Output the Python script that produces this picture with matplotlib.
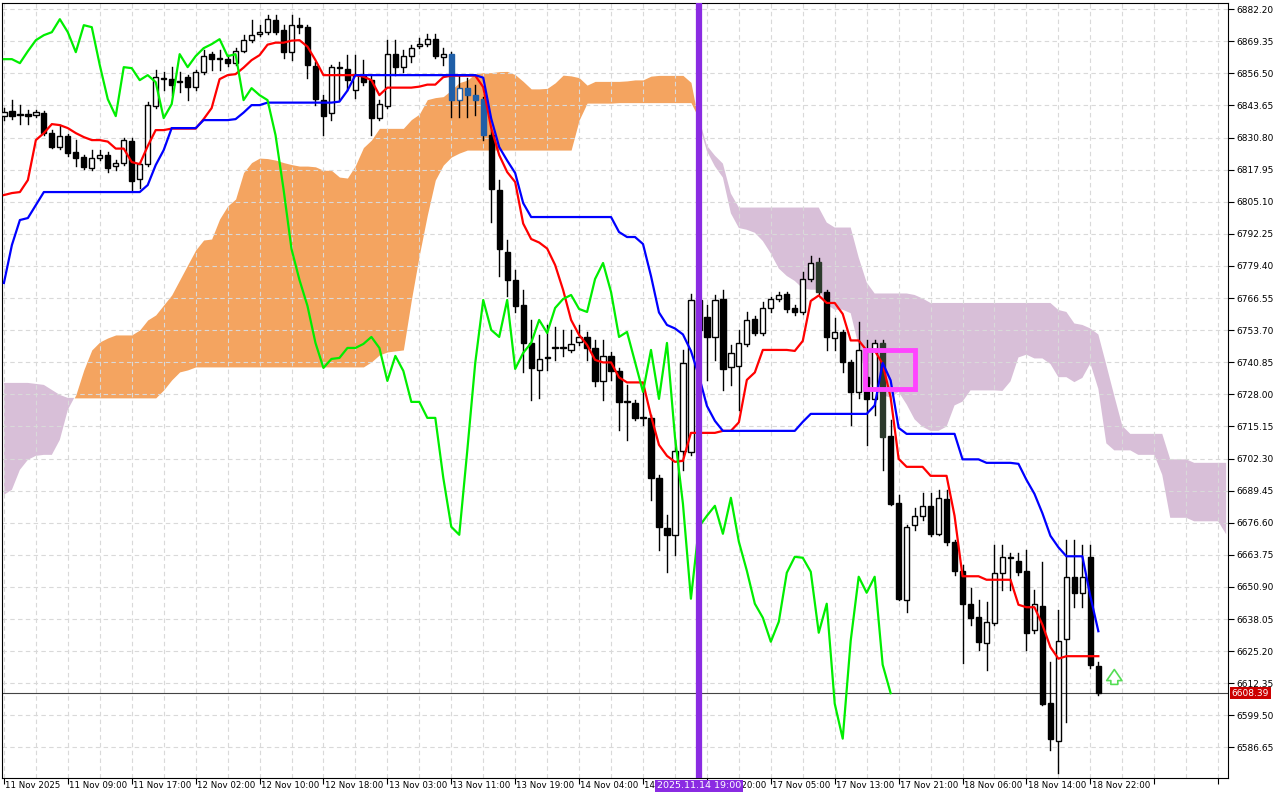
import numpy as np
import pandas as pd
import matplotlib
matplotlib.use("Agg")
import matplotlib.pyplot as plt
from matplotlib.patches import Rectangle

opens = [6839.4,6841.4,6839.8,6840.2,6839.8,6840.6,6832.6,6827.0,6831.4,6825.0,
         6823.0,6818.6,6822.6,6823.8,6819.4,6820.6,6829.4,6814.2,6820.2,6843.4,
         6854.2,6854.2,6853.0,6855.0,6851.0,6857.0,6864.2,6862.2,6862.2,6860.6,
         6865.4,6869.8,6872.2,6873.0,6877.8,6873.8,6865.0,6875.8,6875.0,6859.4,
         6845.8,6840.6,6858.6,6858.2,6849.8,6855.4,6853.8,6838.6,6843.4,6864.2,
         6859.0,6863.4,6867.4,6868.2,6870.2,6863.0,6864.2,6845.8,6850.6,6847.8,
         6846.2,6831.8,6809.8,6785.0,6773.8,6763.8,6748.6,6737.8,6742.6,6746.6,
         6746.6,6745.8,6749.0,6751.0,6746.6,6733.4,6743.4,6737.4,6725.0,6724.6,
         6718.6,6718.6,6694.6,6674.6,6671.8,6705.4,6705.0,6765.8,6759.0,6751.0,
         6766.2,6739.0,6739.4,6748.2,6758.2,6752.6,6762.6,6766.2,6768.2,6762.6,
         6761.0,6774.2,6781.0,6769.0,6750.6,6753.0,6741.0,6729.0,6735.0,6726.2,
         6748.6,6711.4,6684.6,6645.8,6675.8,6679.4,6683.4,6672.2,6686.2,6669.0,
         6657.4,6644.2,6639.0,6628.6,6636.6,6656.6,6662.6,6661.4,6657.4,6633.8,
         6643.4,6604.6,6589.4,6630.2,6655.0,6648.6,6663.0,6619.4]
closes = [6841.0,6839.4,6839.8,6839.4,6841.0,6832.6,6827.0,6831.4,6824.6,6822.6,
          6819.0,6822.6,6823.8,6818.6,6820.6,6829.8,6813.4,6820.2,6843.8,6855.0,
          6854.2,6851.8,6853.0,6851.0,6857.0,6863.4,6862.2,6862.2,6860.6,6865.4,
          6869.8,6871.8,6873.0,6878.2,6873.0,6865.0,6875.8,6875.0,6859.8,6846.2,
          6839.4,6859.0,6858.6,6853.8,6855.8,6853.0,6838.6,6844.2,6864.2,6859.0,
          6863.4,6866.6,6868.2,6870.2,6863.4,6864.2,6845.8,6850.6,6847.8,6845.8,
          6831.8,6810.2,6786.2,6773.8,6763.4,6748.6,6738.6,6742.2,6742.6,6746.6,
          6746.6,6748.2,6751.0,6746.6,6733.4,6743.4,6737.4,6725.0,6725.0,6718.6,
          6718.6,6694.6,6675.0,6671.8,6705.4,6740.6,6765.8,6753.8,6751.0,6765.8,
          6738.2,6744.6,6748.6,6757.8,6752.6,6762.6,6766.2,6767.8,6762.2,6761.0,
          6774.2,6780.6,6769.0,6751.0,6753.0,6741.0,6729.0,6745.8,6726.2,6748.6,
          6711.0,6684.2,6646.2,6675.0,6679.4,6683.4,6672.2,6686.6,6669.0,6657.4,
          6644.2,6638.6,6629.0,6637.0,6656.6,6663.0,6662.6,6657.0,6632.6,6644.2,
          6604.2,6590.2,6629.4,6655.0,6648.6,6655.0,6619.8,6608.39]
highs = [6842.6,6845.8,6843.8,6841.8,6841.8,6841.4,6833.8,6835.8,6832.2,6829.8,
         6823.8,6825.8,6825.8,6825.0,6821.8,6830.6,6830.6,6821.0,6845.0,6857.8,
         6857.0,6859.0,6857.0,6855.8,6857.8,6865.8,6865.0,6865.8,6863.8,6866.6,
         6871.8,6877.8,6875.8,6879.8,6879.8,6875.8,6879.8,6878.6,6875.8,6861.0,
         6847.8,6859.8,6861.0,6863.8,6863.8,6861.8,6855.8,6845.8,6869.8,6869.8,
         6865.8,6867.8,6870.6,6872.2,6872.2,6866.6,6865.0,6855.8,6854.6,6851.8,
         6847.0,6833.8,6813.8,6789.8,6777.8,6769.8,6757.8,6751.8,6755.8,6755.0,
         6753.8,6753.8,6755.8,6753.0,6749.8,6749.8,6745.0,6738.6,6731.8,6725.8,
         6729.0,6719.8,6695.8,6679.8,6709.8,6745.8,6768.2,6767.8,6763.8,6767.8,
         6769.8,6747.8,6753.8,6761.0,6759.4,6765.0,6767.0,6769.0,6769.0,6763.8,
         6777.0,6783.4,6782.6,6769.8,6758.6,6753.8,6741.8,6757.0,6749.8,6749.8,
         6749.8,6717.8,6687.8,6675.8,6682.6,6688.6,6688.6,6689.8,6689.8,6669.8,
         6659.8,6650.6,6645.8,6645.0,6667.8,6667.8,6664.6,6664.6,6665.8,6649.8,
         6661.0,6621.0,6641.8,6669.8,6669.8,6667.8,6667.8,6621.0]
lows = [6837.8,6838.2,6836.2,6836.2,6839.0,6831.8,6826.6,6826.2,6823.4,6819.4,
        6818.2,6817.8,6821.8,6817.0,6817.8,6819.8,6809.8,6810.6,6819.4,6842.6,
        6849.8,6847.8,6849.0,6845.8,6849.8,6856.2,6857.8,6857.8,6859.4,6859.8,
        6865.0,6869.0,6871.4,6872.2,6872.2,6862.6,6861.8,6872.6,6854.6,6843.8,
        6831.8,6837.8,6845.8,6849.8,6846.6,6851.8,6831.8,6837.8,6842.6,6855.8,
        6857.0,6861.0,6866.6,6867.4,6862.6,6859.8,6839.0,6839.0,6839.0,6839.8,
        6829.8,6797.0,6775.4,6767.4,6761.0,6737.0,6725.8,6726.6,6737.8,6741.8,
        6743.4,6745.0,6747.8,6741.8,6731.4,6725.8,6733.8,6713.8,6709.8,6717.8,
        6715.8,6685.8,6665.8,6657.0,6663.8,6697.8,6703.8,6749.8,6733.8,6741.8,
        6729.8,6731.8,6721.8,6747.4,6751.8,6751.8,6761.0,6765.4,6761.0,6759.8,
        6760.2,6773.4,6768.2,6745.8,6745.8,6737.0,6715.8,6726.6,6707.8,6719.8,
        6697.8,6683.8,6645.8,6641.0,6673.8,6677.8,6671.4,6671.8,6667.8,6655.8,
        6620.6,6635.8,6625.8,6617.8,6635.8,6649.8,6649.8,6655.8,6625.8,6632.6,
        6603.8,6585.8,6576.6,6597.0,6643.0,6643.0,6618.6,6607.8]

tenkan_head = [6807.8,6808.6,6809.0,6813.8,6829.8,6832.6,6836.2,6835.8]
kijun_head = [6772.6,6787.8,6797.8,6798.6,6803.8] + [6809.0]*13 + \
             [6811.8,6819.8,6825.8,6834.6,6834.6,6834.6,6834.6]
spanA_head = [6687.8,6689.8,6697.8,6701.8,6703.4,6703.8,6703.8,6709.8,6721.8,6727.8,
              6737.8,6745.8,6749.0,6750.6,6751.8,6751.8,6751.8,6753.8,6757.8,6759.8,
              6763.8,6767.8,6773.8,6779.8,6785.8,6789.8]
spanB_head = ([6732.6,6732.6,6732.6,6732.6,6732.2,6731.8,6729.8,6727.8,6726.6]
              + [6726.6]*11 + [6729.8,6733.8,6737.0,6737.8] + [6739.0]*22
              + [6741.0,6743.8,6745.0,6745.4,6745.8]
              + [6765.8,6783.8,6799.8,6813.8,6819.8,6823.0,6824.6]
              + [6825.8]*14 + [6837.8,6844.6,6844.6,6844.6,6844.6])

xlabels = ["11 Nov 2025","11 Nov 09:00","11 Nov 17:00","12 Nov 02:00","12 Nov 10:00",
           "12 Nov 18:00","13 Nov 03:00","13 Nov 11:00","13 Nov 19:00","14 Nov 04:00",
           "14 Nov 12:00","17 Nov 20:00","17 Nov 05:00","17 Nov 13:00","17 Nov 21:00",
           "18 Nov 06:00","18 Nov 14:00","18 Nov 22:00"]
yticks = [6882.20 - 12.85 * i for i in range(24)]
last_price = 6608.39
marker_bar = 87
marker_label = "2025.11.14 19:00"

n = len(closes)
H = pd.Series(highs); L = pd.Series(lows)
tenkan = ((H.rolling(9).max() + L.rolling(9).min()) / 2).values
kijun = ((H.rolling(26).max() + L.rolling(26).min()) / 2).values
tenkan[:8] = tenkan_head
kijun[:25] = kijun_head
sb_raw = ((H.rolling(52).max() + L.rolling(52).min()) / 2).values
m = n + 16
spanA = np.full(m, np.nan); spanB = np.full(m, np.nan)
spanA[:26] = spanA_head
spanA[26:m] = ((tenkan + kijun) / 2)[:m - 26]
spanB[:77] = spanB_head
spanB[77:m] = sb_raw[51:m - 26]

fig = plt.figure(figsize=(12.8, 8), dpi=100)
ax = fig.add_axes([0.0015, 0.028, 0.958, 0.968])
xs = np.arange(n); xc = np.arange(m)
ax.fill_between(xc, spanA, spanB, where=spanA >= spanB, interpolate=True,
                color='#f4a460', lw=0, zorder=1)
ax.fill_between(xc, spanA, spanB, where=spanA < spanB, interpolate=True,
                color='#d8bfd8', lw=0, zorder=1)

for i in range(n):
    o, c, h, l = opens[i], closes[i], highs[i], lows[i]
    ax.plot([i, i], [l, h], color='black', lw=1, zorder=3)
    lo, hi = min(o, c), max(o, c)
    if 56 <= i <= 60:
        fc = '#1f5fa8' if c < o else 'white'
        ec = '#1f5fa8'
    elif i in (102, 110):
        fc, ec = '#2c3a2c', '#2c3a2c'
    else:
        fc = 'black' if c < o else 'white'
        ec = 'black'
    ax.add_patch(Rectangle((i - 0.33, lo), 0.66, max(hi - lo, 0.4), fc=fc, ec=ec,
                           lw=1, zorder=4))

ax.plot(xs, tenkan, color='#ff0000', lw=1.6, zorder=5)
ax.plot(xs, kijun, color='#0000ff', lw=1.6, zorder=5)
ax.plot(xs[:n - 26], closes[26:], color='#00ee00', lw=1.6, zorder=5)

ax.axvline(marker_bar, color='#8a2be2', lw=4.5, zorder=6)
ax.axhline(last_price, color='#444444', lw=0.8, zorder=2)
ax.add_patch(Rectangle((107.75, 6730.2), 6.25, 15.6, fc='none', ec='#ff44ff', lw=3.5, zorder=7))
ax.annotate('', xy=(139, 6619.0), xytext=(139, 6610.8),
            arrowprops=dict(arrowstyle='simple,head_width=1.1,head_length=0.8,tail_width=0.5',
                            fc='white', ec='#55dd55', lw=1.2), zorder=7)

ax.set_xlim(-0.25, 153.25)
ax.set_ylim(6574.6, 6884.6)
ax.yaxis.tick_right()
ax.set_yticks(yticks)
ax.set_yticklabels([f"{v:.2f}" for v in yticks], fontsize=6.5)
ax.set_xticks(np.arange(0, 154, 8))
ax.set_xticks(np.arange(0, 154, 4), minor=True)
ax.set_xticklabels([])
ax.tick_params(axis='both', which='major', length=4, width=0.8, pad=2)
ax.tick_params(axis='x', which='minor', length=0)
ax.grid(True, which='both', color='#d9d9d9', ls=(0, (4, 3)), lw=0.8, zorder=0)
for j, lab in enumerate(xlabels):
    ax.text(8 * j + 0.15, -0.005, lab, transform=ax.get_xaxis_transform(),
            ha='left', va='top', fontsize=6.2, clip_on=False)
ax.text(marker_bar, -0.005, marker_label, transform=ax.get_xaxis_transform(),
        ha='center', va='top', fontsize=6.8, color='white', zorder=10,
        bbox=dict(boxstyle='square,pad=0.2', fc='#8a2be2', ec='none'))
ax.text(1.003, last_price, f"{last_price:.2f}", transform=ax.get_yaxis_transform(),
        ha='left', va='center', fontsize=6.5, color='white', zorder=10,
        bbox=dict(boxstyle='square,pad=0.2', fc='#cc0000', ec='none'), clip_on=False)
for s in ax.spines.values():
    s.set_linewidth(0.8)
fig.savefig('out.png', dpi=100)
